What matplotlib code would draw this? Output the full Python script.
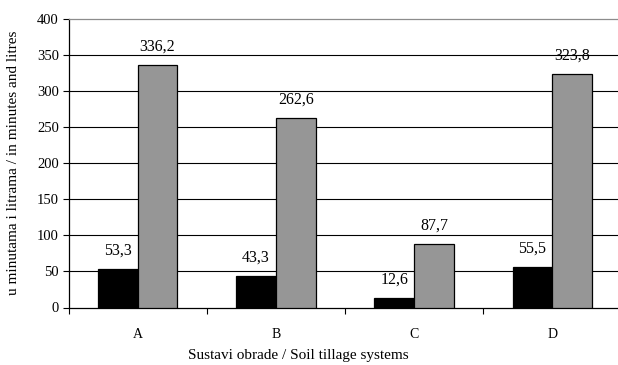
import numpy as np
import matplotlib
matplotlib.use('Agg')
import matplotlib.pyplot as plt

# data
categories = ['A', 'B', 'C', 'D']
minutes = [53.3, 43.3, 12.6, 55.5]
litres = [336.2, 262.6, 87.7, 323.8]
yticks = [0, 50, 100, 150, 200, 250, 300, 350, 400]

plt.rcParams['font.family'] = ['Liberation Serif', 'DejaVu Serif']

fig = plt.figure(figsize=(6.18, 3.65), dpi=100)
# axes runs slightly past the right edge, as in the cropped original
ax = fig.add_axes([68.5 / 618, 1 - 307.5 / 365, 553 / 618, 288.5 / 365])

x = np.arange(len(categories)) + 0.5
w = 0.288
ax.bar(x - w / 2, minutes, w, color='black', edgecolor='black', linewidth=0.9, zorder=3)
ax.bar(x + w / 2, litres, w, color='#969696', edgecolor='black', linewidth=0.9, zorder=3)

def lab(v):
    return ('%.1f' % v).replace('.', ',')

for xi, v in zip(x - w / 2, minutes):
    ax.annotate(lab(v), (xi, v), xytext=(0, 7.5), textcoords='offset points',
                ha='center', va='bottom', fontsize=11.5, zorder=4)
for xi, v in zip(x + w / 2, litres):
    ax.annotate(lab(v), (xi, v), xytext=(0, 7.5), textcoords='offset points',
                ha='center', va='bottom', fontsize=11.5, zorder=4)

ax.set_xlim(0, 4)
ax.set_ylim(0, 400)
ax.set_yticks(yticks)
ax.set_yticklabels([str(t) for t in yticks], fontsize=10.5)
for t in yticks[1:-1]:
    ax.axhline(t, color='black', linewidth=0.8, zorder=1)

# category boundaries get ticks, labels sit in the middle
ax.set_xticks([0, 1, 2, 3])
ax.set_xticklabels([])
ax.set_xticks(x, minor=True)
ax.set_xticklabels(categories, minor=True, fontsize=10)
ax.tick_params(axis='x', which='minor', length=0, pad=15)
ax.tick_params(axis='x', which='major', length=4, direction='out', width=0.8)
ax.tick_params(axis='y', length=4, direction='out', width=0.8, pad=3)

ax.spines['top'].set_color('#8c8c8c')
ax.spines['right'].set_visible(False)
for s in ['left', 'bottom', 'top']:
    ax.spines[s].set_linewidth(0.9)

ax.set_ylabel('u minutama i litrama / in minutes and litres', fontsize=11)
ax.yaxis.set_label_coords(-0.088, 0.5)
fig.text(298 / 618, 1 - 355 / 365, 'Sustavi obrade / Soil tillage systems',
         ha='center', va='center', fontsize=11)

fig.savefig('out.png', dpi=100)
